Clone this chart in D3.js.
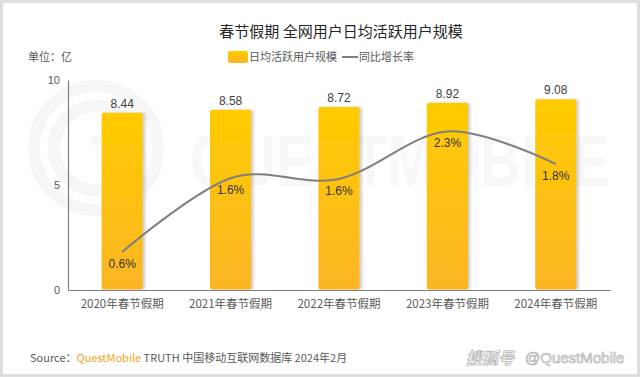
<!DOCTYPE html>
<html>
<head>
<meta charset="utf-8">
<script src="https://cdn.jsdelivr.net/npm/d3@7"></script>
<style>
  body { margin: 0; background: #fff; }
  svg { display: block; font-family: "Liberation Sans", Arial, sans-serif; }
  .cn { font-family: "Noto Sans CJK SC", "Liberation Sans", sans-serif; }
</style>
</head>
<body>
<svg id="chart" width="640" height="377"></svg>
<script>
// data
var years = ["2020年春节假期", "2021年春节假期", "2022年春节假期", "2023年春节假期", "2024年春节假期"];
var dau = [8.44, 8.58, 8.72, 8.92, 9.08];           // 亿
var growth = [0.6, 1.64, 1.63, 2.3, 1.84];          // %
var yTicks = [0, 5, 10];

var W = 640, H = 377,
  pLeft = 68, pRight = 610, pTop = 80, pBottom = 290;

var svg = d3.select("#chart");

// frame
svg.append("rect")
  .attr("x", 1.5).attr("y", 1.5)
  .attr("width", W - 3).attr("height", H - 3)
  .attr("fill", "#fff")
  .attr("stroke", "#dedede")
  .attr("stroke-width", 3);

var defs = svg.append("defs");
var grad = defs.append("linearGradient")
  .attr("id", "barGrad")
  .attr("x1", 0).attr("y1", 0).attr("x2", 0).attr("y2", 1);
grad.append("stop").attr("offset", "0%").attr("stop-color", "#ffcc00");
grad.append("stop").attr("offset", "100%").attr("stop-color", "#fbb525");
var shadow = defs.append("filter").attr("id", "shadow")
  .attr("x", "-20%").attr("y", "-5%").attr("width", "150%").attr("height", "110%");
shadow.append("feDropShadow")
  .attr("dx", 2.5).attr("dy", 0).attr("stdDeviation", 1.2)
  .attr("flood-color", "#999").attr("flood-opacity", 0.45);

// faint watermark
var wm = svg.append("g").attr("fill", "none").attr("stroke", "#f6f6f6");
[62, 42].forEach(function (r) {
  wm.append("circle").attr("cx", 96).attr("cy", 148).attr("r", r).attr("stroke-width", 12);
});
wm.append("circle").attr("cx", 96).attr("cy", 141).attr("r", 5).attr("fill", "#f6f6f6").attr("stroke", "none");
svg.append("text")
  .attr("x", 190).attr("y", 186)
  .attr("textLength", 420)
  .attr("lengthAdjust", "spacingAndGlyphs")
  .attr("font-size", 72)
  .attr("font-weight", 700)
  .attr("fill", "#f8f8f8")
  .text("QUESTMOBILE");

// title + unit
svg.append("text")
  .attr("class", "cn")
  .attr("x", 341).attr("y", 37)
  .attr("text-anchor", "middle")
  .attr("font-size", 15)
  .attr("font-weight", 400)
  .attr("fill", "#262626")
  .text("春节假期 全网用户日均活跃用户规模");
svg.append("text")
  .attr("class", "cn")
  .attr("x", 28).attr("y", 61)
  .attr("font-size", 11)
  .attr("fill", "#595959")
  .text("单位：亿");

// legend
var lg = svg.append("g").attr("class", "cn").attr("font-size", 11).attr("fill", "#595959");
lg.append("rect")
  .attr("x", 228).attr("y", 51).attr("width", 20).attr("height", 12).attr("rx", 2)
  .attr("fill", "url(#barGrad)");
lg.append("text").attr("x", 249).attr("y", 61).text("日均活跃用户规模");
lg.append("line")
  .attr("x1", 342).attr("x2", 358).attr("y1", 57).attr("y2", 57)
  .attr("stroke", "#7f7f7f").attr("stroke-width", 2);
lg.append("text").attr("x", 359).attr("y", 61).text("同比增长率");

// scales
var x = d3.scaleBand().domain(years).range([pLeft, pRight]).paddingInner(0.62).paddingOuter(0.31);
var y = d3.scaleLinear().domain([0, 10]).range([pBottom, pTop]);
var y2 = d3.scaleLinear().domain([0, 3]).range([294.5, 81.8]);

// axes (lines only, no tick marks)
var yAxis = svg.append("g")
  .attr("transform", "translate(" + pLeft + ",0)")
  .call(d3.axisLeft(y).tickValues(yTicks).tickSize(0).tickPadding(8));
yAxis.select(".domain").attr("stroke", "#7f7f7f").attr("stroke-width", 1.2);
yAxis.selectAll("text").attr("font-size", 11).attr("fill", "#595959")
  .attr("font-family", "Liberation Sans, Arial, sans-serif");

var xAxis = svg.append("g")
  .attr("transform", "translate(0," + pBottom + ")")
  .call(d3.axisBottom(x).tickSize(0).tickPadding(10));
xAxis.select(".domain").attr("stroke", "#7f7f7f").attr("stroke-width", 1.2);
xAxis.selectAll("text").attr("font-size", 11.5).attr("fill", "#595959")
  .attr("font-family", "Noto Sans CJK SC, sans-serif");

// bars
svg.append("g").selectAll("rect")
  .data(dau)
  .enter()
  .append("rect")
  .attr("x", function (d, i) { return x(years[i]) })
  .attr("y", function (d) { return y(d) })
  .attr("width", x.bandwidth())
  .attr("height", function (d) { return pBottom - y(d) - 0.6 })
  .attr("rx", 2)
  .attr("fill", "url(#barGrad)")
  .attr("filter", "url(#shadow)");

svg.append("g").selectAll("text")
  .data(dau)
  .enter()
  .append("text")
  .attr("x", function (d, i) { return x(years[i]) + x.bandwidth() / 2 })
  .attr("y", function (d) { return y(d) - 5 })
  .attr("text-anchor", "middle")
  .attr("font-size", 12)
  .attr("fill", "#404040")
  .text(function (d) { return d.toFixed(2) });

// growth line
var line = d3.line()
  .x(function (d, i) { return x(years[i]) + x.bandwidth() / 2 })
  .y(function (d) { return y2(d) })
  .curve(d3.curveCardinal.tension(0));
svg.append("path")
  .datum(growth)
  .attr("d", line)
  .attr("fill", "none")
  .attr("stroke", "#7f7f7f")
  .attr("stroke-width", 2);

svg.append("g").selectAll("text")
  .data(growth)
  .enter()
  .append("text")
  .attr("x", function (d, i) { return x(years[i]) + x.bandwidth() / 2 })
  .attr("y", function (d) { return y2(d) + 16 })
  .attr("text-anchor", "middle")
  .attr("font-size", 12)
  .attr("fill", "#333")
  .text(function (d) { return d3.format(".1f")(d) + "%" });

// footer
var src = svg.append("text")
  .attr("class", "cn")
  .attr("x", 30).attr("y", 362)
  .attr("font-size", 11)
  .attr("fill", "#595959");
src.append("tspan").text("Source：");
src.append("tspan").attr("fill", "#f7a21b").text("QuestMobile");
src.append("tspan").text(" TRUTH 中国移动互联网数据库 2024年2月");

var sh = svg.append("g").attr("class", "cn")
  .attr("fill", "#fff").attr("stroke", "#b0b0b0").attr("stroke-width", 0.7);
sh.append("text")
  .attr("x", 466).attr("y", 364)
  .attr("font-size", 16).attr("font-weight", 700).attr("font-style", "italic")
  .text("搜狐号");
sh.append("text")
  .attr("x", 525).attr("y", 363)
  .attr("font-size", 15)
  .attr("font-family", "Liberation Sans, Arial, sans-serif")
  .text("@QuestMobile");
</script>
</body>
</html>
